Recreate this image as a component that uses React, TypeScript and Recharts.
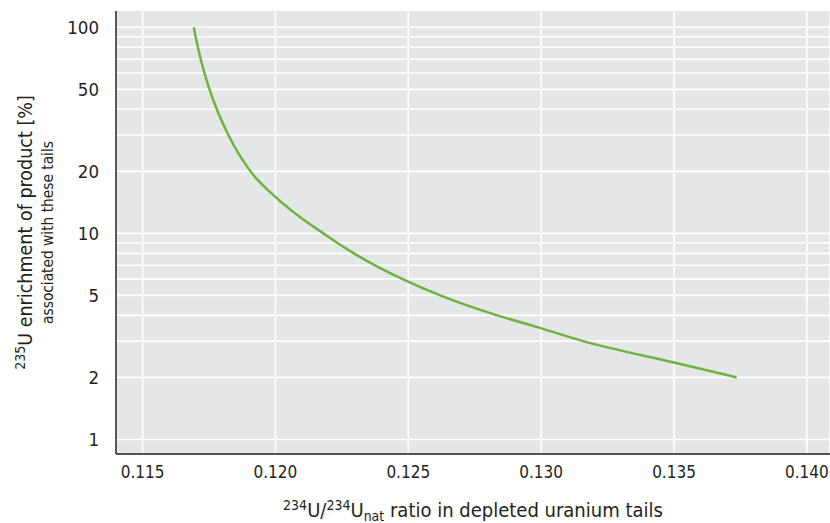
import * as React from "react";
import { CartesianGrid, Line, LineChart, ReferenceLine, XAxis, YAxis } from "recharts";

// 234U/234Unat ratio in tails vs. 235U enrichment of product
const tailRatio = [
  0.116929, 0.116996, 0.117083, 0.117188, 0.117331, 0.117519, 0.117793, 0.118229, 0.11906, 0.120008,
  0.120921, 0.121805, 0.12232, 0.122951, 0.123748, 0.124789, 0.126203, 0.128346, 0.129887, 0.131579,
  0.134962, 0.137357,
];
const enrichment = [100, 90, 80, 70, 60, 50, 40, 30, 20, 15, 12, 10, 9, 8, 7, 6, 5, 4, 3.5, 3, 2.37, 2];

const xTicks = [0.115, 0.12, 0.125, 0.13, 0.135, 0.14];
const yTicks = [1, 2, 5, 10, 20, 50, 100];
const yGrid = [1, 2, 3, 4, 5, 6, 7, 8, 9, 10, 20, 30, 40, 50, 60, 70, 80, 90, 100];

const FONT = '"DejaVu Sans Condensed", "DejaVu Sans", sans-serif';
const INK = "#231f20";

const data = tailRatio.map((x, i) => ({ x, y: enrichment[i] }));

function XLabel(props: { viewBox?: { x: number; y: number; width: number; height: number } }) {
  const { x = 0, y = 0, width = 0 } = props.viewBox ?? {};
  return (
    <text x={x + width / 2} y={y + 63} textAnchor="middle" fontFamily={FONT} fontSize={20} fill={INK}>
      <tspan fontSize={14} dy={-7}>234</tspan>
      <tspan dy={7}>U/</tspan>
      <tspan fontSize={14} dy={-7}>234</tspan>
      <tspan dy={7}>U</tspan>
      <tspan fontSize={14} dy={4}>nat</tspan>
      <tspan dy={-4}> ratio in depleted uranium tails</tspan>
    </text>
  );
}

function YLabel(props: { viewBox?: { x: number; y: number; width: number; height: number } }) {
  const { y = 0, height = 0 } = props.viewBox ?? {};
  const cy = y + height / 2;
  return (
    <g>
      <text
        transform={`translate(32, ${cy}) rotate(-90)`}
        textAnchor="middle"
        fontFamily={FONT}
        fontSize={19.5}
        fill={INK}
      >
        <tspan fontSize={14} dy={-7}>235</tspan>
        <tspan dy={7}>U enrichment of product [%]</tspan>
      </text>
      <text
        transform={`translate(53, ${cy}) rotate(-90)`}
        textAnchor="middle"
        fontFamily={FONT}
        fontSize={15.3}
        fill={INK}
      >
        associated with these tails
      </text>
    </g>
  );
}

export default function App() {
  return (
    <>
      {/* chart fills the page, so drop the default body margin */}
      <style>{"html,body{margin:0;padding:0;overflow:hidden}"}</style>
      <LineChart width={830} height={523} data={data} margin={{ top: 11, right: 0, bottom: 0, left: 0 }}>
        <CartesianGrid fill="#e5e6e8" stroke="#ffffff" strokeWidth={1.6} horizontal={false} />
        <XAxis
          dataKey="x"
          type="number"
          domain={[0.114, 0.14087]}
          allowDataOverflow
          ticks={xTicks}
          tickFormatter={(v: number) => v.toFixed(3)}
          height={69}
          tickLine={false}
          tickSize={0}
          tickMargin={12}
          axisLine={{ stroke: INK, strokeWidth: 1.5 }}
          tick={{ fill: INK, fontSize: 17, fontFamily: FONT }}
          label={<XLabel />}
        />
        <YAxis
          type="number"
          scale="log"
          domain={[0.85, 120]}
          allowDataOverflow
          ticks={yTicks}
          width={116}
          tickLine={false}
          tickSize={0}
          tickMargin={17}
          axisLine={{ stroke: INK, strokeWidth: 1.5 }}
          tick={{ fill: INK, fontSize: 18.5, fontFamily: FONT }}
          label={<YLabel />}
        />
        {yGrid.map((v) => (
          <ReferenceLine key={v} y={v} stroke="#ffffff" strokeWidth={1.6} />
        ))}
        <Line
          dataKey="y"
          type="monotone"
          stroke="#6db33f"
          strokeWidth={2.5}
          dot={false}
          isAnimationActive={false}
        />
      </LineChart>
    </>
  );
}
